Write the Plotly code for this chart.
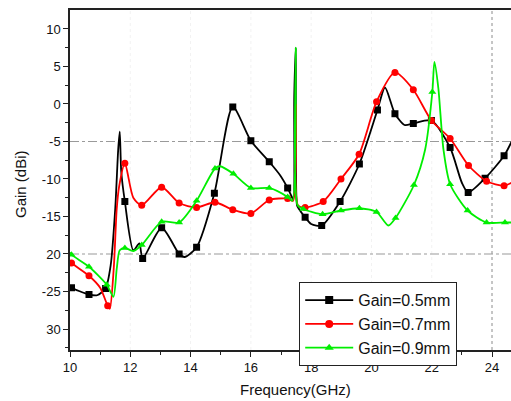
import plotly.graph_objects as go

# ---------------- data ----------------
freq_05 = [10.0, 10.05, 10.63, 10.9, 11.18, 11.35, 11.5, 11.6, 11.65, 11.7, 11.82, 12.1, 12.3, 12.41,
           13.04, 13.62, 13.8, 14.2, 14.79, 15.4, 16.0, 16.61, 16.97, 17.22, 17.35, 17.41, 17.44, 17.49,
           17.53, 17.58, 17.8, 18.0, 18.35, 18.96, 19.6, 20.2, 20.45, 20.78, 21.1, 21.39, 21.99, 22.61,
           23.0, 23.21, 23.77, 24.4, 24.7]
gain_05 = [-24.3, -24.5, -25.4, -25.5, -24.6, -21.5, -14.0, -6.0, -3.7, -9.0, -13.0, -19.5, -18.6, -20.6,
           -16.5, -20.0, -20.4, -19.1, -11.9, -0.4, -4.9, -7.7, -9.5, -11.2, -12.3, -12.8, 1.1, 7.5,
           -13.5, -13.9, -15.1, -16.0, -16.2, -13.0, -8.0, -0.8, 2.2, -1.3, -2.8, -2.6, -2.2, -5.8,
           -10.5, -11.8, -9.9, -6.9, -4.6]
marks_05 = [10.05, 10.63, 11.18, 11.82, 12.41, 13.04, 13.62, 14.2, 14.79, 15.4, 16.0, 16.61, 17.22,
            17.8, 18.35, 18.96, 19.6, 20.2, 20.78, 21.39, 21.99, 22.61, 23.21, 23.77, 24.4]

freq_07 = [10.0, 10.05, 10.63, 11.0, 11.25, 11.32, 11.45, 11.55, 11.63, 11.82, 12.1, 12.38, 13.04,
           13.62, 14.2, 14.81, 15.4, 16.0, 16.61, 17.22, 17.4, 17.5, 17.56, 17.8, 18.4, 18.99, 19.59,
           20.17, 20.78, 21.39, 21.99, 22.61, 23.22, 23.82, 24.4, 24.7]
gain_07 = [-20.9, -21.2, -22.9, -24.5, -26.9, -27.3, -22.0, -14.0, -11.0, -7.9, -12.5, -13.5, -11.1,
           -13.2, -13.8, -13.1, -14.1, -14.6, -12.8, -12.6, -12.9, -0.1, -13.5, -13.8, -13.0, -10.0, -6.7,
           0.3, 4.2, 1.9, -2.2, -4.6, -8.2, -10.3, -10.9, -10.4]
marks_07 = [10.05, 10.63, 11.25, 11.82, 12.38, 13.04, 13.62, 14.2, 14.81, 15.4, 16.0, 16.61, 17.22,
            17.8, 18.4, 18.99, 19.59, 20.17, 20.78, 21.39, 21.99, 22.61, 23.22, 23.82, 24.4]

freq_09 = [10.0, 10.05, 10.63, 11.22, 11.44, 11.55, 11.65, 11.82, 12.1, 12.38, 13.04, 13.62, 14.2,
           14.81, 14.98, 15.42, 16.0, 16.61, 17.22, 17.38, 17.49, 17.55, 17.74, 18.38, 18.99, 19.6,
           20.17, 20.56, 20.8, 21.41, 21.78, 22.02, 22.09, 22.22, 22.39, 22.61, 23.19, 23.82, 24.43, 24.7]
gain_09 = [-19.8, -20.1, -21.7, -24.1, -25.7, -22.0, -19.5, -19.2, -19.6, -18.8, -15.7, -15.8, -12.9,
           -8.6, -8.3, -9.3, -11.2, -11.2, -12.4, -12.9, 7.5, -13.5, -14.0, -14.7, -14.2, -13.9,
           -14.4, -16.2, -15.2, -10.8, -6.1, 1.6, 5.6, 2.1, -6.1, -10.7, -14.2, -15.8, -15.8, -15.8]
marks_09 = [10.05, 10.63, 11.22, 11.82, 12.38, 13.04, 13.62, 14.2, 14.81, 15.42, 16.0, 16.61, 17.22,
            17.74, 18.38, 18.99, 19.6, 20.17, 20.8, 21.41, 22.02, 22.61, 23.19, 23.82, 24.43]

series_names = ["Gain=0.5mm", "Gain=0.7mm", "Gain=0.9mm"]
y_tickvals = [10, 5, 0, -5, -10, -15, -20, -25, -30]
y_ticktext = ["10", "5", "0", "-5", "-10", "-15", "20", "-25", "30"]
y_minor = [7.5, 2.5, -2.5, -7.5, -12.5, -17.5, -22.5, -27.5, -32.5]
x_tickvals = [10, 12, 14, 16, 18, 20, 22, 24]

# ---------------- figure ----------------
series = [
    (freq_05, gain_05, marks_05, "#000000", "square"),
    (freq_07, gain_07, marks_07, "#ff0000", "circle"),
    (freq_09, gain_09, marks_09, "#00ee00", "triangle-up"),
]

fig = go.Figure()
for (fx, gy, mk, col, sym), name in zip(series, series_names):
    lookup = dict(zip(fx, gy))
    fig.add_trace(go.Scatter(x=fx, y=gy, mode="lines", showlegend=False,
                             line=dict(color=col, width=1.8, shape="spline", smoothing=0.7),
                             hoverinfo="skip"))
    fig.add_trace(go.Scatter(x=mk, y=[lookup[v] for v in mk], mode="markers", showlegend=False,
                             marker=dict(color=col, symbol=sym, size=7)))
    fig.add_trace(go.Scatter(x=[None], y=[None], mode="lines+markers", name=name,
                             line=dict(color=col, width=1.8),
                             marker=dict(color=col, symbol=sym, size=8)))

grid_col = "#f2f2f2"
shapes = []
for xv in [12, 14, 16, 18, 20, 22]:
    shapes.append(dict(type="line", xref="x", yref="paper", x0=xv, x1=xv, y0=0, y1=1,
                       line=dict(color=grid_col, width=1, dash="dot"), layer="below"))
for yv in [-5, -20]:
    shapes.append(dict(type="line", xref="paper", yref="y", x0=0, x1=1, y0=yv, y1=yv,
                       line=dict(color="#9a9a9a", width=1.2, dash="dashdot"), layer="below"))
shapes.append(dict(type="line", xref="x", yref="paper", x0=24, x1=24, y0=0, y1=1,
                   line=dict(color="#a0a0a0", width=1.2, dash="dot"), layer="below"))

font_family = "Liberation Sans, Arial, sans-serif"
fig.update_layout(
    width=511, height=401,
    margin=dict(l=70, r=0, t=10, b=51),
    paper_bgcolor="white", plot_bgcolor="white",
    font=dict(family=font_family, size=12, color="#111"),
    shapes=shapes,
    showlegend=True,
    legend=dict(x=(299 - 70) / 441, y=(350 - 282) / 340, xanchor="left", yanchor="top",
                bgcolor="white", bordercolor="#222", borderwidth=1.2,
                font=dict(size=16, family=font_family, color="#111"),
                tracegroupgap=0, itemwidth=48),
    xaxis=dict(range=[10, 24.63], tickvals=x_tickvals, ticks="outside", ticklen=5, tickwidth=1.3,
               showline=True, linecolor="#222", linewidth=1.5, mirror=True, showgrid=False,
               zeroline=False, tickfont=dict(size=13), tickcolor="#222",
               minor=dict(dtick=1, ticks="outside", ticklen=3, tickwidth=1.2, tickcolor="#222",
                          showgrid=False)),
    yaxis=dict(range=[-32.8, 12.53], tickvals=y_tickvals, ticktext=y_ticktext, ticks="outside",
               ticklen=5, tickwidth=1.3, tickcolor="#222",
               showline=True, linecolor="#222", linewidth=1.5, mirror=False, showgrid=False,
               zeroline=False, tickfont=dict(size=13),
               minor=dict(tickvals=y_minor, ticks="outside", ticklen=3, tickwidth=1.2,
                          tickcolor="#222", showgrid=False)),
    annotations=[
        dict(text="Frequency(GHz)", xref="paper", yref="paper", x=(295 - 70) / 441, y=-(389 - 350) / 340,
             xanchor="center", yanchor="middle", showarrow=False, font=dict(size=15)),
        dict(text="Gain (dBi)", xref="paper", yref="paper", x=-(70 - 20) / 441, y=(350 - 184) / 340,
             xanchor="center", yanchor="middle", showarrow=False, textangle=-90, font=dict(size=15)),
    ],
)

fig.write_html("out.html")
